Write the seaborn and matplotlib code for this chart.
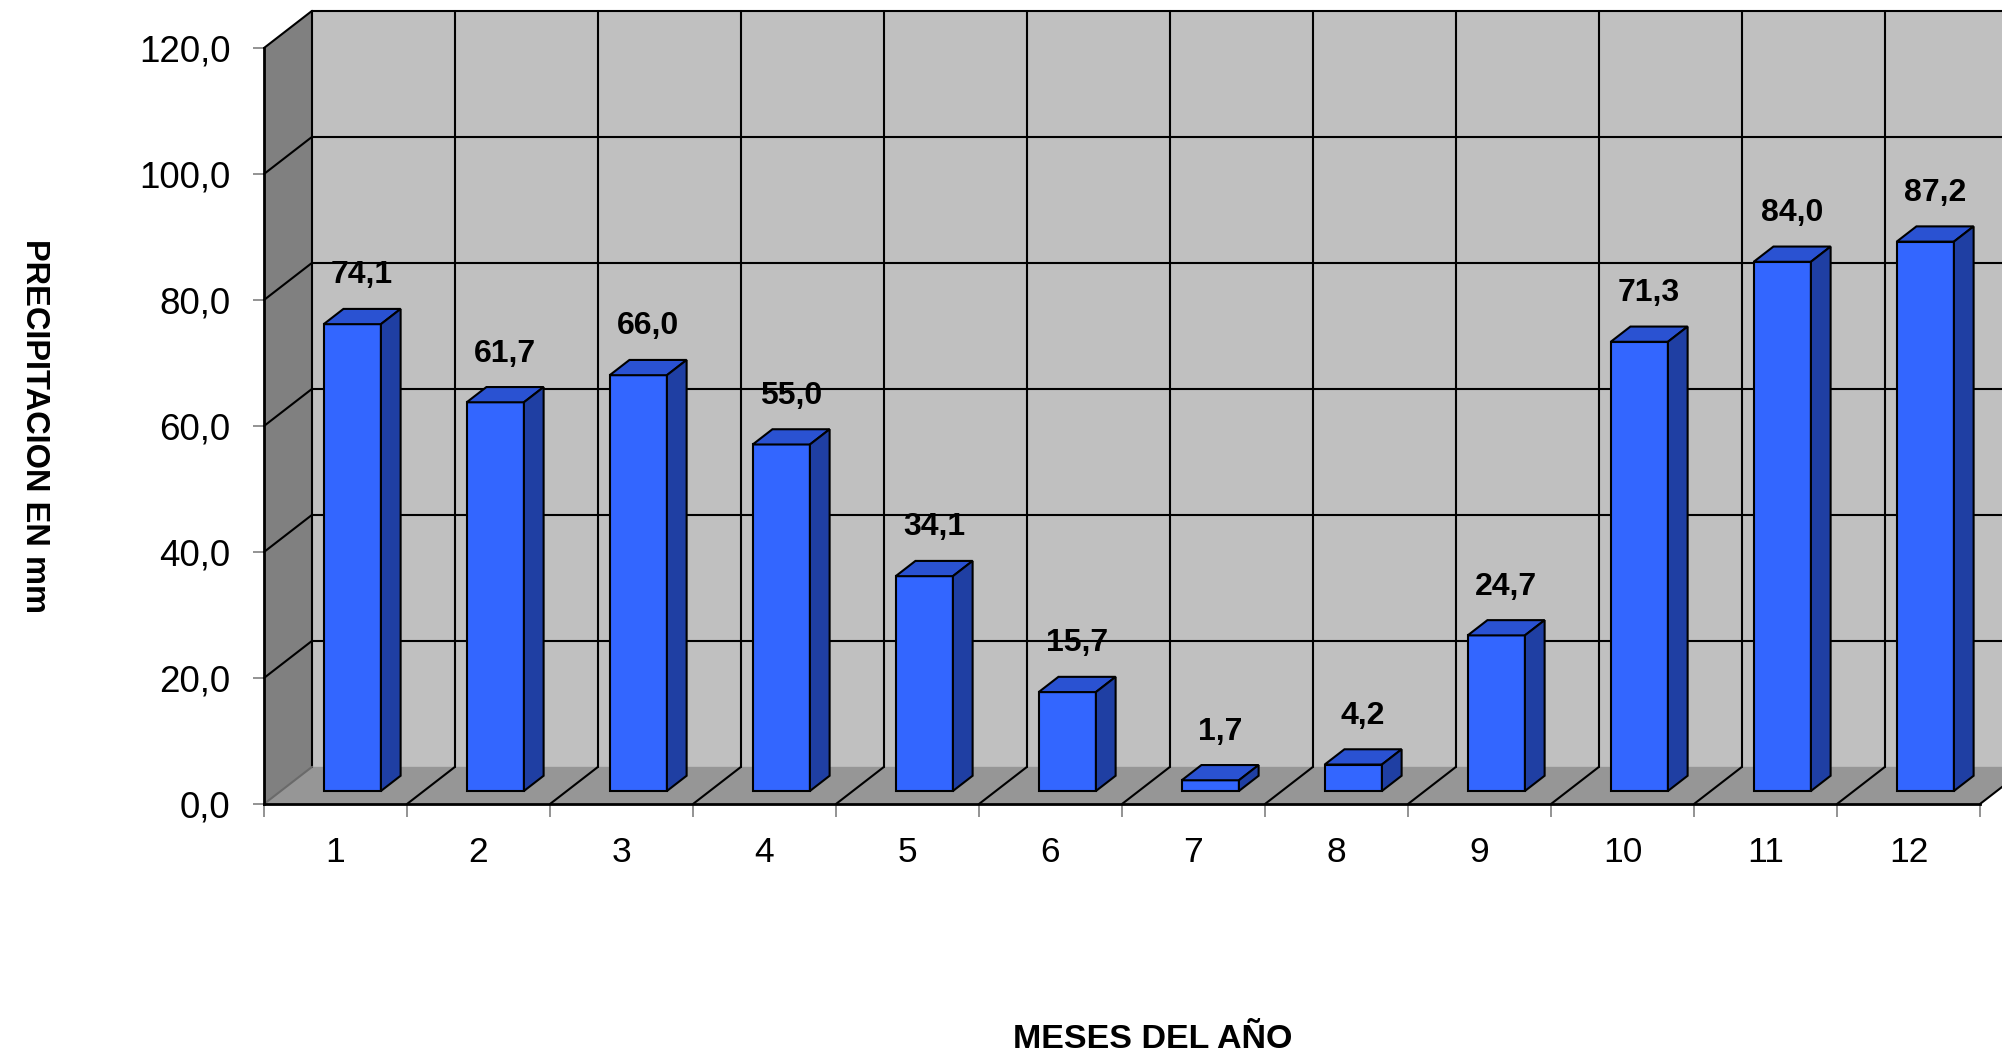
import pandas as pd
import matplotlib.pyplot as plt
import seaborn as sns
from matplotlib.patches import Polygon

# data
months = ['1', '2', '3', '4', '5', '6', '7', '8', '9', '10', '11', '12']
precip = [74.1, 61.7, 66.0, 55.0, 34.1, 15.7, 1.7, 4.2, 24.7, 71.3, 84.0, 87.2]
y_ticks = [0, 20, 40, 60, 80, 100, 120]

df = pd.DataFrame({'Mes': months, 'Precip': precip})

# fake 3D depth (category units, value units)
DX, DY = 0.336, 5.9
F0, F1 = 0.35, 0.76   # bar front / back position inside the depth

FRONT = '#3366ff'
TOP = '#2a52d2'
SIDE = '#1f3fa3'

sns.set_style("white")
plt.rcParams['font.family'] = ['Liberation Sans', 'DejaVu Sans']
plt.rcParams['text.color'] = 'black'
plt.rcParams['xtick.labelcolor'] = 'black'
plt.rcParams['ytick.labelcolor'] = 'black'

fig = plt.figure(figsize=(20.02, 10.59), dpi=100)
W, H = 2002, 1059
ax = fig.add_axes([264 / W, 1 - 804 / H, (1980 - 264) / W, (804 - 48) / H])

# walls and floor
x0, x1 = -0.5, 11.5
side_wall = Polygon([(x0, 0), (x0, 120), (x0 + DX, 120 + DY), (x0 + DX, DY)],
                    closed=True, facecolor='#808080', edgecolor='none', zorder=0.4, clip_on=False)
back_wall = Polygon([(x0 + DX, DY), (x0 + DX, 120 + DY), (x1 + DX, 120 + DY), (x1 + DX, DY)],
                    closed=True, facecolor='#c0c0c0', edgecolor='none', zorder=0.4, clip_on=False)
floor = Polygon([(x0, 0), (x1, 0), (x1 + DX, DY), (x0 + DX, DY)],
                closed=True, facecolor='#969696', edgecolor='none', zorder=0.5, clip_on=False)
for p in (side_wall, back_wall, floor):
    ax.add_patch(p)

# grid lines on back wall and side wall
for v in y_ticks[1:]:
    ax.plot([x0 + DX, x1 + DX], [v + DY, v + DY], color='black', lw=1.5, zorder=0.6, clip_on=False)
    ax.plot([x0, x0 + DX], [v, v + DY], color='black', lw=1.5, zorder=0.6, clip_on=False)
for i in range(len(months) + 1):
    b = x0 + i
    ax.plot([b + DX, b + DX], [DY, 120 + DY], color='black', lw=1.5, zorder=0.6, clip_on=False)
    ax.plot([b, b + DX], [0, DY], color='black' if i > 0 else '#6a6a6a',
            lw=1.5, zorder=0.6, clip_on=False)

# front faces through seaborn
sns.barplot(data=df, x='Mes', y='Precip', order=months, color=FRONT, saturation=1,
            width=0.4, edgecolor='black', linewidth=1.5, ax=ax, zorder=3)

for patch, v in zip(ax.patches[3:], precip):
    patch.set_x(patch.get_x() + F0 * DX)
    patch.set_y(F0 * DY)
    patch.set_clip_on(False)
    xl = patch.get_x()
    xr = xl + patch.get_width()
    yb = F0 * DY
    yt = yb + v
    ddx, ddy = (F1 - F0) * DX, (F1 - F0) * DY
    top = Polygon([(xl, yt), (xr, yt), (xr + ddx, yt + ddy), (xl + ddx, yt + ddy)],
                  closed=True, facecolor=TOP, edgecolor='black', lw=1.5, zorder=3, clip_on=False)
    side = Polygon([(xr, yb), (xr, yt), (xr + ddx, yt + ddy), (xr + ddx, yb + ddy)],
                   closed=True, facecolor=SIDE, edgecolor='black', lw=1.5, zorder=3, clip_on=False)
    ax.add_patch(top)
    ax.add_patch(side)
    ax.text((xl + xr) / 2 + ddx / 2, v + 9.8, f"{v:.1f}".replace('.', ','),
            ha='center', va='center', fontsize=23, fontweight='bold', color='black', zorder=4)

# axes, ticks
ax.set_xlim(x0, x1)
ax.set_ylim(0, 120)
ax.set_facecolor('none')
for s in ('top', 'right'):
    ax.spines[s].set_visible(False)
for s in ('left', 'bottom'):
    ax.spines[s].set_color('black')
    ax.spines[s].set_linewidth(2)
    ax.spines[s].set_zorder(2.5)

ax.set_yticks(y_ticks)
ax.set_yticklabels([f"{t:.1f}".replace('.', ',') for t in y_ticks])
ax.set_xticks([x0 + i for i in range(len(months) + 1)])
ax.set_xticklabels([])
ax.set_xticks(range(len(months)), minor=True)
ax.set_xticklabels(months, minor=True)
ax.tick_params(axis='y', which='major', direction='out', length=8, width=1.2,
               color='#808080', labelcolor='black', labelsize=26.5, pad=16, left=True)
ax.tick_params(axis='x', which='major', direction='out', length=9, width=1.2,
               color='#808080', bottom=True)
ax.tick_params(axis='x', which='minor', length=0, labelsize=25.5, labelcolor='black', pad=23)
ax.set_xlabel('')
ax.set_ylabel('')

fig.text(34 / W, 1 - 426 / H, 'PRECIPITACION EN mm', rotation=270, ha='center', va='center',
         fontsize=23.5, fontweight='bold', color='black')
fig.text(1153 / W, 1 - 1039 / H, 'MESES DEL AÑO', ha='center', va='center',
         fontsize=24.5, fontweight='bold', color='black')

fig.savefig('out.png', dpi=100)
